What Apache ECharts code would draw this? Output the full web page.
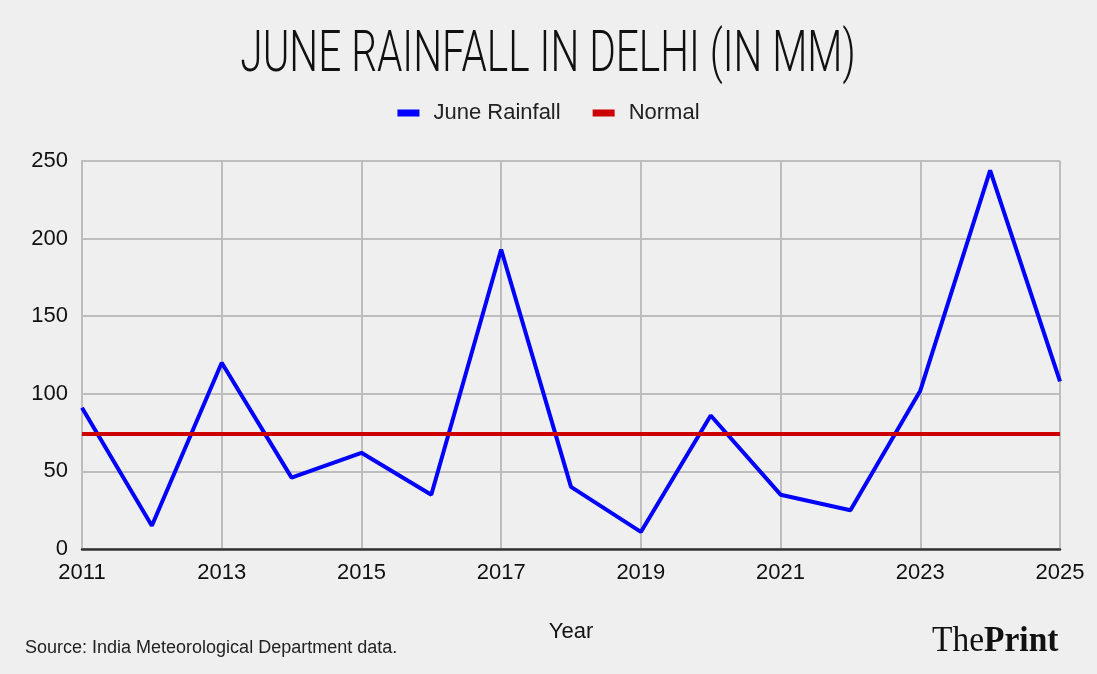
<!DOCTYPE html>
<html>
<head>
<meta charset="utf-8">
<script src="https://cdn.jsdelivr.net/npm/echarts@6/dist/echarts.min.js"></script>
<style>
  html, body { margin: 0; padding: 0; background: #efefef; }
  #chart { width: 1097px; height: 674px; }
</style>
</head>
<body>
<div id="chart"></div>
<script>
// June rainfall in Delhi (mm)
const years = ['2011', '2012', '2013', '2014', '2015', '2016', '2017', '2018',
  '2019', '2020', '2021', '2022', '2023', '2024', '2025'];
const juneRainfall = [91, 15, 120, 46, 62, 35, 193, 40, 11, 86, 35, 25, 102, 244, 108];
const normalRainfall = 74.1;
const yTicks = { min: 0, max: 250, step: 50 };

const chart = echarts.init(document.getElementById('chart'));

const option = {
  backgroundColor: '#efefef',
  animation: false,
  textStyle: { fontFamily: 'Liberation Sans, Arial, sans-serif' },
  graphic: [
    {
      // thin condensed title
      type: 'text',
      x: 548,
      y: 56,
      scaleX: 0.7,
      style: {
        text: 'JUNE RAINFALL IN DELHI (IN MM)',
        font: '300 58px Roboto, "Liberation Sans", sans-serif',
        fill: '#111',
        textAlign: 'center',
        textVerticalAlign: 'middle'
      }
    },
    {
      type: 'text',
      left: 25,
      top: 639,
      style: {
        text: 'Source: India Meteorological Department data.',
        font: '18px "Liberation Sans", Arial, sans-serif',
        fill: '#222'
      }
    },
    {
      // ThePrint logo
      type: 'text',
      x: 932,
      y: 642,
      scaleX: 0.93,
      style: {
        text: '{a|The}{b|Print}',
        textVerticalAlign: 'middle',
        rich: {
          a: { font: 'normal 36px "Liberation Serif", serif', fill: '#111' },
          b: { font: 'bold 36px "Liberation Serif", serif', fill: '#111' }
        }
      }
    }
  ],
  legend: {
    top: 97,
    left: 'center',
    icon: 'rect',
    itemWidth: 22,
    itemHeight: 7,
    itemGap: 32,
    textStyle: { fontSize: 22, color: '#222', padding: [0, 0, 0, 9] },
    data: ['June Rainfall', 'Normal']
  },
  grid: { left: 82, right: 37, top: 161, bottom: 125 },
  xAxis: {
    type: 'category',
    data: years,
    boundaryGap: false,
    name: 'Year',
    nameLocation: 'middle',
    nameGap: 72,
    nameTextStyle: { fontSize: 22, color: '#111' },
    axisLine: { lineStyle: { color: '#333', width: 2.5 } },
    axisTick: { show: false },
    axisLabel: { interval: 1, fontSize: 22, color: '#111', margin: 13 },
    splitLine: { show: true, interval: 1, lineStyle: { color: '#bdbdbd', width: 2 } }
  },
  yAxis: {
    type: 'value',
    min: yTicks.min,
    max: yTicks.max,
    interval: yTicks.step,
    axisLine: { show: true, lineStyle: { color: '#bdbdbd', width: 2 } },
    axisTick: { show: false },
    axisLabel: { fontSize: 22, color: '#111', margin: 14 },
    splitLine: { lineStyle: { color: '#bdbdbd', width: 2 } }
  },
  series: [
    {
      name: 'June Rainfall',
      type: 'line',
      data: juneRainfall,
      color: '#0000ff',
      symbol: 'none',
      lineStyle: { width: 4, color: '#0000ff' },
      z: 3
    },
    {
      name: 'Normal',
      type: 'line',
      data: [],
      color: '#cc0000',
      symbol: 'none',
      lineStyle: { width: 4, color: '#cc0000' },
      markLine: {
        silent: true,
        symbol: 'none',
        label: { show: false },
        lineStyle: { type: 'solid', width: 4, color: '#cc0000' },
        data: [{ yAxis: normalRainfall }]
      },
      z: 2
    }
  ]
};

chart.setOption(option);
</script>
</body>
</html>
